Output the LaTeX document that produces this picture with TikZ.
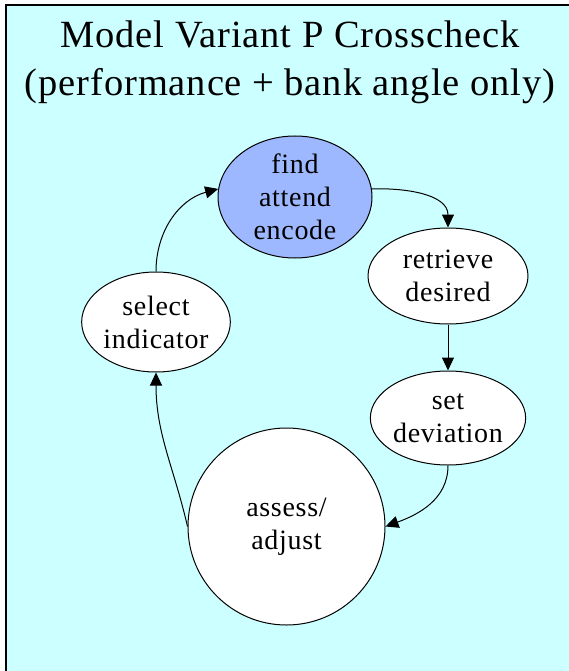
\documentclass[tikz,border=0pt]{standalone}
\usepackage{fontspec}
\setmainfont{Liberation Serif}
\newfontfamily\titlefont[LetterSpace=2.3]{Liberation Serif}
\newfontfamily\nodefont[LetterSpace=2.5]{Liberation Serif}
\usetikzlibrary{arrows.meta,shapes.geometric}
\definecolor{bgcyan}{RGB}{204,255,255}
\definecolor{findblue}{RGB}{158,184,255}
\begin{document}
\begin{tikzpicture}[x=1pt,y=-1pt,
  ell/.style={ellipse,draw=black,line width=1pt,fill=white,inner sep=0pt,align=center,
    font=\nodefont\fontsize{28}{33}\selectfont},
  arr/.style={-{Triangle[length=13pt,width=12pt]},line width=1pt}]
\useasboundingbox (0,0) rectangle (569,671);
\clip (0,0) rectangle (569,671);
\fill[bgcyan] (6,5) rectangle (600,700);
\draw[line width=1.5pt] (6,700) -- (6,5) -- (600,5);
\node[align=center,font=\titlefont\fontsize{38.5}{48}\selectfont] (title) at (290,62)
  {Model Variant P Crosscheck\\(performance + bank angle only)};
\node[ell,fill=findblue,minimum width=154pt,minimum height=122pt] (find) at (295,197) {find\\attend\\encode};
\node[ell,minimum width=160pt,minimum height=96pt] (retr) at (448,276) {retrieve\\desired};
\node[ell,minimum width=152pt,minimum height=94pt] (set) at (448,418) {set\\deviation};
\node[ell,circle,minimum size=197pt] (ass) at (286.5,526.5) {assess/\\adjust};
\node[ell,minimum width=142pt,minimum height=100pt] (sel) at (156,322) {select\\indicator};
\draw[arr] (sel.north) to[out=90,in=195] (find.174);
\draw[arr] (find.6) to[out=2,in=90] (retr.north);
\draw[arr] (retr.south) -- (set.north);
\draw[arr] (set.south) to[out=-90,in=20] (ass.east);
\draw[arr] (ass.west) to[out=103,in=-90] (sel.south);
\end{tikzpicture}
\end{document}
